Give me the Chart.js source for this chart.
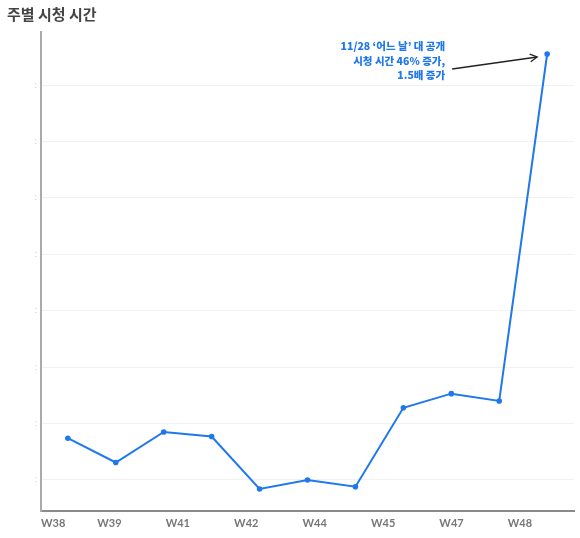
<!DOCTYPE html>
<html>
<head>
<meta charset="utf-8">
<script src="https://cdn.jsdelivr.net/npm/chart.js@4"></script>
<style>
  html, body { margin: 0; padding: 0; background: #fff; }
  #wrap { width: 580px; height: 538px; }
</style>
</head>
<body>
<div id="wrap"><canvas id="weeklyChart"></canvas></div>
<script>
// weekly watch time (arbitrary units)
const weeks = ['W38', 'W39', 'W40', 'W41', 'W42', 'W43', 'W44', 'W45', 'W46', 'W47', 'W48'];
const watchTime = [17.4, 13.1, 18.5, 17.7, 8.4, 10.0, 8.8, 22.8, 25.3, 24.0, 85.5];
const axisLabels = ['W38', 'W39', 'W41', 'W42', 'W44', 'W45', 'W47', 'W48'];
const gridValues = [10, 20, 30, 40, 50, 60, 70, 80];
const noteLines = ['11/28 ‘어느 날’ 대 공개', '시청 시간 46% 증가,', '1.5배 증가'];

const blue = '#1f78ec';
const korean = "'Noto Sans CJK KR', 'Noto Sans', sans-serif";

const noteArrow = {
  id: 'noteArrow',
  afterDatasetsDraw(chart) {
    const pt = chart.getDatasetMeta(0).data[watchTime.length - 1];
    if (!pt) return;
    const ctx = chart.ctx;
    ctx.save();
    // arrow
    const sx = pt.x - 95, sy = pt.y + 15;
    const ex = pt.x - 10, ey = pt.y + 3;
    ctx.strokeStyle = '#222';
    ctx.lineWidth = 1.3;
    ctx.beginPath();
    ctx.moveTo(sx, sy);
    ctx.lineTo(ex, ey);
    ctx.stroke();
    const ang = Math.atan2(ey - sy, ex - sx);
    ctx.beginPath();
    ctx.moveTo(ex - 8 * Math.cos(ang - 0.5), ey - 8 * Math.sin(ang - 0.5));
    ctx.lineTo(ex, ey);
    ctx.lineTo(ex - 8 * Math.cos(ang + 0.5), ey - 8 * Math.sin(ang + 0.5));
    ctx.stroke();
    // text
    ctx.fillStyle = blue;
    ctx.font = '900 10.5px ' + korean;
    ctx.textAlign = 'right';
    ctx.textBaseline = 'middle';
    const offs = [-8, 7, 21];
    noteLines.forEach((t, i) => ctx.fillText(t, pt.x - 102, pt.y + offs[i]));
    ctx.restore();
  }
};

new Chart(document.getElementById('weeklyChart'), {
  type: 'line',
  data: {
    datasets: [{
      label: '시청 시간',
      data: watchTime.map((v, i) => ({ x: i, y: v })),
      borderColor: blue,
      backgroundColor: blue,
      borderWidth: 2,
      pointRadius: 1.8,
      pointHoverRadius: 1.8,
      tension: 0
    }]
  },
  options: {
    responsive: true,
    maintainAspectRatio: false,
    animation: false,
    layout: { padding: { left: 7, right: 6, top: 0, bottom: 0 } },
    plugins: {
      legend: { display: false },
      tooltip: { enabled: false },
      title: {
        display: true,
        text: '주별 시청 시간',
        align: 'start',
        color: '#444',
        font: { family: korean, size: 15, weight: 'bold' },
        padding: { top: 5, bottom: 9 }
      }
    },
    scales: {
      x: {
        type: 'linear',
        display: false,
        min: -0.56,
        max: 10.56
      },
      xLabels: {
        type: 'linear',
        position: 'bottom',
        min: 0,
        max: 7.79,
        afterBuildTicks: axis => {
          axis.ticks = axisLabels.map((l, i) => ({ value: i })).concat([{ value: 7.79 }]);
        },
        afterFit: axis => { axis.height = 27; },
        grid: { display: true, color: 'transparent', drawTicks: false },
        border: { display: true, color: '#8a8a8a', width: 2 },
        ticks: {
          autoSkip: false,
          maxRotation: 0,
          align: 'inner',
          padding: 6,
          color: '#777',
          font: { family: 'Lato, sans-serif', size: 11, weight: 'bold' },
          callback: v => axisLabels[v] !== undefined ? axisLabels[v] : ''
        }
      },
      y: {
        min: 4.5,
        max: 89.4,
        afterBuildTicks: axis => {
          axis.ticks = gridValues.map(v => ({ value: v }));
        },
        afterFit: axis => { axis.width = 34; },
        grid: { color: '#f1f1f1', drawTicks: false },
        border: { display: true, color: '#aaa', width: 2 },
        ticks: {
          padding: 4,
          color: '#c8c8c8',
          font: { size: 9 },
          callback: () => ':'
        }
      }
    }
  },
  plugins: [noteArrow]
});
</script>
</body>
</html>
